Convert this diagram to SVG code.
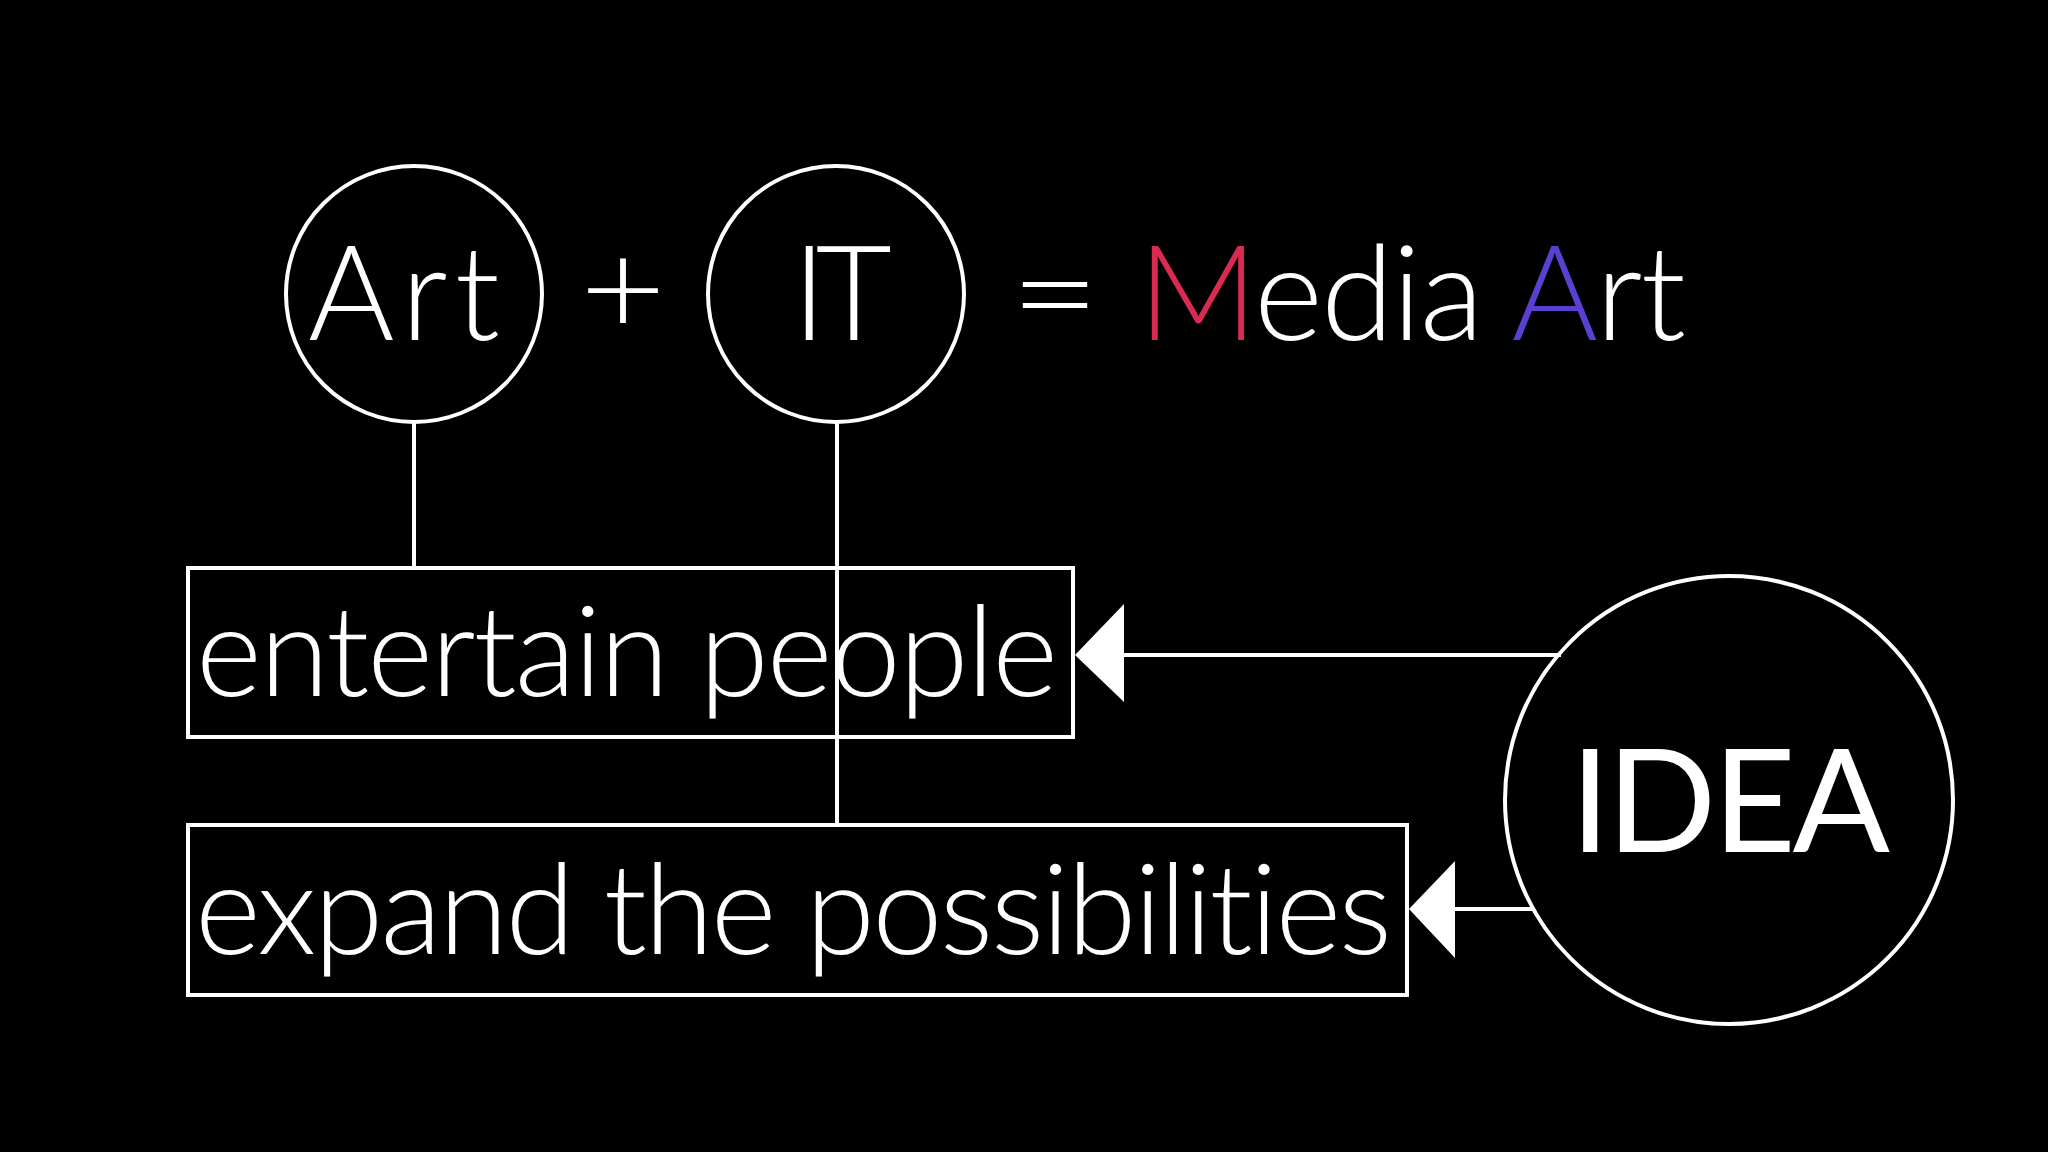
<svg xmlns="http://www.w3.org/2000/svg" width="2048" height="1152" viewBox="0 0 2048 1152">
  <style>
    .shape { fill: #000; stroke: #fff; stroke-width: 4; }
    .box { fill: none; stroke: #fff; stroke-width: 4; }
    .conn { stroke: #fff; stroke-width: 4; fill: none; }
    .head { fill: #fff; stroke: none; }
    .t { font-family: Lato, "Open Sans", "DejaVu Sans", sans-serif; font-weight: 300; fill: #fff; font-variant-ligatures: none; font-feature-settings: "liga" 0, "clig" 0; }
    .big { font-size: 132px; }
    .mid { font-size: 126px; }
    .idea { font-size: 144px; font-weight: 400; }
  </style>
  <rect x="0" y="0" width="2048" height="1152" fill="#000"/>

  <g id="node-art">
    <circle class="shape" cx="414" cy="294" r="128"/>
    <text class="t big" x="308" y="340" textLength="192">Art</text>
  </g>

  <g id="plus">
    <text class="t big" x="580" y="335" textLength="86" lengthAdjust="spacingAndGlyphs">+</text>
  </g>

  <g id="node-it">
    <circle class="shape" cx="836" cy="294" r="128"/>
    <text class="t big" x="792" y="340" textLength="100">IT</text>
  </g>

  <g id="equals">
    <text class="t big" x="1010" y="340" textLength="90" lengthAdjust="spacingAndGlyphs">=</text>
  </g>

  <g id="media-art">
    <text class="t big" x="1138" y="340" textLength="548"><tspan fill="#d92a52">M</tspan>edia <tspan fill="#5a3fd0">A</tspan>rt</text>
  </g>

  <g id="node-entertain">
    <rect class="box" x="188" y="568" width="885" height="169"/>
    <text class="t mid" x="196" y="696" textLength="862">entertain people</text>
  </g>

  <g id="node-expand">
    <rect class="box" x="188" y="825" width="1219" height="170"/>
    <text class="t mid" x="195" y="954" textLength="1197">expand the possibilities</text>
  </g>

  <g id="node-idea">
    <circle class="shape" cx="1729" cy="800" r="224"/>
    <text class="t idea" x="1570" y="852" textLength="320">IDEA</text>
  </g>

  <g id="connectors">
    <line class="conn" x1="414" y1="422" x2="414" y2="568"/>
    <line class="conn" x1="837" y1="422" x2="837" y2="825"/>
    <line class="conn" x1="1120" y1="655" x2="1561" y2="655"/>
    <polygon class="head" points="1075,655 1124,604 1124,702"/>
    <line class="conn" x1="1450" y1="909" x2="1533" y2="909"/>
    <polygon class="head" points="1409,909 1455,861 1455,958"/>
  </g>
</svg>
